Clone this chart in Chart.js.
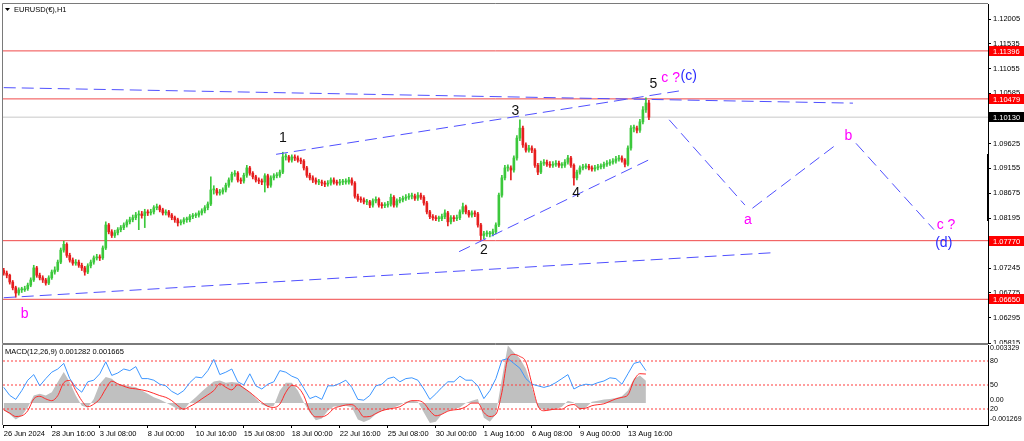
<!DOCTYPE html>
<html>
<head>
<meta charset="utf-8">
<script src="https://cdn.jsdelivr.net/npm/chart.js@4.4.1/dist/chart.umd.min.js"></script>
<style>
  body { margin: 0; background: #fff; width: 1024px; height: 441px; overflow: hidden; position: relative; }
  canvas { position: absolute; left: 0; }
  #main { top: 0; }
  #macd { top: 344px; }
</style>
</head>
<body>
<canvas id="main" width="1024" height="344"></canvas>
<canvas id="macd" width="1024" height="97"></canvas>
<script>
// EURUSD H1, drawn as 4-hour candles (x = hours since 26 Jun 00:00)
const barStep = 4;
const firstOpen = 1.0720;
const closes = [
  1.0715,1.0711,1.0698,1.0687,1.0677,1.0683,1.0683,1.0685,1.0692,1.0702,
  1.0725,1.0711,1.0706,1.0702,1.0696,1.0706,1.0717,1.0721,1.0736,1.0759,
  1.0770,1.0749,1.0740,1.0734,1.0736,1.0730,1.0725,1.0717,1.0729,1.0736,
  1.0744,1.0746,1.0744,1.0763,1.0807,1.0794,1.0787,1.0792,1.0798,1.0802,
  1.0807,1.0813,1.0817,1.0821,1.0826,1.0828,1.0825,1.0832,1.0830,1.0832,
  1.0840,1.0842,1.0836,1.0830,1.0832,1.0826,1.0821,1.0817,1.0811,1.0813,
  1.0817,1.0817,1.0823,1.0825,1.0826,1.0830,1.0834,1.0840,1.0847,1.0874,
  1.0874,1.0868,1.0870,1.0874,1.0883,1.0893,1.0904,1.0906,1.0893,1.0891,
  1.0902,1.0916,1.0906,1.0899,1.0893,1.0891,1.0889,1.0901,1.0883,1.0897,
  1.0901,1.0902,1.0908,1.0937,1.0937,1.0931,1.0937,1.0935,1.0931,1.0929,
  1.0916,1.0902,1.0897,1.0893,1.0889,1.0889,1.0887,1.0885,1.0887,1.0893,
  1.0889,1.0887,1.0889,1.0889,1.0889,1.0893,1.0887,1.0862,1.0856,1.0855,
  1.0851,1.0851,1.0845,1.0853,1.0856,1.0845,1.0844,1.0845,1.0847,1.0860,
  1.0845,1.0853,1.0855,1.0858,1.0860,1.0862,1.0862,1.0858,1.0864,1.0860,
  1.0849,1.0832,1.0823,1.0821,1.0819,1.0819,1.0823,1.0830,1.0813,1.0821,
  1.0819,1.0821,1.0832,1.0842,1.0832,1.0826,1.0830,1.0828,1.0807,1.0787,
  1.0790,1.0790,1.0790,1.0794,1.0807,1.0864,1.0897,1.0916,1.0916,1.0912,
  1.0935,1.0973,1.0992,1.0960,1.0950,1.0954,1.0950,1.0921,1.0908,1.0925,
  1.0927,1.0923,1.0921,1.0923,1.0925,1.0921,1.0921,1.0927,1.0935,1.0921,
  1.0897,1.0908,1.0916,1.0918,1.0919,1.0916,1.0914,1.0916,1.0918,1.0919,
  1.0923,1.0925,1.0927,1.0929,1.0933,1.0935,1.0931,1.0923,1.0954,1.0992,
  1.0992,1.0988,1.1004,1.1027,1.1040,1.1013
];
const highs = [
  1.0724,1.0719,1.0713,1.0701,1.0690,1.0687,1.0688,1.0690,1.0696,1.0706,
  1.0730,1.0728,1.0715,1.0710,1.0705,1.0710,1.0721,1.0727,1.0740,1.0763,
  1.0776,1.0773,1.0753,1.0744,1.0741,1.0740,1.0734,1.0728,1.0733,1.0740,
  1.0748,1.0751,1.0750,1.0767,1.0813,1.0810,1.0798,1.0797,1.0802,1.0806,
  1.0811,1.0817,1.0822,1.0826,1.0831,1.0834,1.0833,1.0837,1.0836,1.0837,
  1.0844,1.0847,1.0845,1.0839,1.0836,1.0835,1.0829,1.0824,1.0820,1.0817,
  1.0821,1.0822,1.0827,1.0829,1.0830,1.0834,1.0838,1.0844,1.0851,1.0899,
  1.0882,1.0877,1.0875,1.0878,1.0887,1.0897,1.0908,1.0911,1.0909,1.0897,
  1.0906,1.0921,1.0919,1.0909,1.0902,1.0897,1.0895,1.0905,1.0904,1.0901,
  1.0905,1.0907,1.0912,1.0946,1.0943,1.0940,1.0941,1.0941,1.0939,1.0935,
  1.0932,1.0919,1.0906,1.0901,1.0897,1.0894,1.0893,1.0891,1.0892,1.0897,
  1.0897,1.0893,1.0894,1.0894,1.0895,1.0898,1.0897,1.0890,1.0866,1.0861,
  1.0859,1.0856,1.0854,1.0857,1.0861,1.0859,1.0850,1.0850,1.0852,1.0866,
  1.0863,1.0857,1.0860,1.0862,1.0865,1.0867,1.0868,1.0866,1.0869,1.0868,
  1.0863,1.0852,1.0835,1.0827,1.0825,1.0824,1.0828,1.0836,1.0833,1.0825,
  1.0825,1.0826,1.0836,1.0849,1.0845,1.0835,1.0834,1.0834,1.0831,1.0810,
  1.0795,1.0796,1.0795,1.0799,1.0811,1.0868,1.0902,1.0921,1.0922,1.0920,
  1.0939,1.0978,1.1008,1.0996,1.0964,1.0959,1.0958,1.0953,1.0925,1.0929,
  1.0932,1.0931,1.0928,1.0928,1.0930,1.0929,1.0926,1.0932,1.0940,1.0938,
  1.0924,1.0912,1.0920,1.0923,1.0924,1.0923,1.0920,1.0921,1.0923,1.0924,
  1.0927,1.0930,1.0932,1.0934,1.0938,1.0940,1.0939,1.0934,1.0958,1.0997,
  1.0998,1.0996,1.1009,1.1033,1.1050,1.1045
];
const lows = [
  1.0711,1.0706,1.0694,1.0683,1.0669,1.0673,1.0678,1.0680,1.0682,1.0689,
  1.0699,1.0707,1.0702,1.0697,1.0692,1.0693,1.0703,1.0713,1.0718,1.0733,
  1.0755,1.0745,1.0736,1.0730,1.0730,1.0726,1.0720,1.0711,1.0714,1.0725,
  1.0732,1.0740,1.0739,1.0741,1.0760,1.0790,1.0783,1.0783,1.0788,1.0794,
  1.0798,1.0803,1.0809,1.0813,1.0817,1.0798,1.0820,1.0802,1.0825,1.0826,
  1.0828,1.0836,1.0832,1.0826,1.0826,1.0822,1.0817,1.0812,1.0805,1.0807,
  1.0809,1.0812,1.0813,1.0819,1.0821,1.0822,1.0826,1.0830,1.0836,1.0844,
  1.0866,1.0864,1.0864,1.0866,1.0870,1.0879,1.0889,1.0900,1.0889,1.0886,
  1.0887,1.0898,1.0902,1.0895,1.0889,1.0886,1.0884,1.0870,1.0878,1.0879,
  1.0893,1.0897,1.0898,1.0905,1.0931,1.0927,1.0927,1.0930,1.0927,1.0924,
  1.0912,1.0898,1.0893,1.0888,1.0885,1.0884,1.0882,1.0880,1.0881,1.0883,
  1.0885,1.0883,1.0883,1.0884,1.0885,1.0885,1.0883,1.0858,1.0852,1.0850,
  1.0847,1.0846,1.0840,1.0841,1.0849,1.0841,1.0839,1.0840,1.0841,1.0843,
  1.0841,1.0841,1.0849,1.0851,1.0854,1.0856,1.0857,1.0854,1.0854,1.0856,
  1.0845,1.0828,1.0819,1.0816,1.0815,1.0814,1.0815,1.0819,1.0805,1.0809,
  1.0814,1.0815,1.0817,1.0828,1.0828,1.0822,1.0822,1.0823,1.0803,1.0778,
  1.0781,1.0785,1.0784,1.0786,1.0790,1.0804,1.0860,1.0893,1.0910,1.0893,
  1.0908,1.0931,1.0968,1.0955,1.0946,1.0946,1.0945,1.0917,1.0903,1.0905,
  1.0921,1.0919,1.0917,1.0917,1.0919,1.0917,1.0916,1.0917,1.0923,1.0917,
  1.0883,1.0893,1.0904,1.0912,1.0914,1.0912,1.0910,1.0910,1.0912,1.0914,
  1.0915,1.0919,1.0921,1.0923,1.0925,1.0929,1.0927,1.0918,1.0920,1.0950,
  1.0985,1.0983,1.0984,1.1000,1.1022,1.1008
];

// axis ticks
const xTickVals = [0, 64, 128, 192, 256, 320, 384, 448, 512, 576, 640, 704, 768, 832];
const xTickLabels = ['26 Jun 2024', '28 Jun 16:00', '3 Jul 08:00', '8 Jul 00:00', '10 Jul 16:00', '15 Jul 08:00',
  '18 Jul 00:00', '22 Jul 16:00', '25 Jul 08:00', '30 Jul 00:00', '1 Aug 16:00', '6 Aug 08:00', '9 Aug 00:00', '13 Aug 16:00'];
const priceTicks = [1.12005, 1.11535, 1.11055, 1.10585, 1.09625, 1.09155, 1.08675, 1.08195,
  1.07715, 1.07245, 1.06775, 1.06295, 1.05815];

// horizontal levels
const levels = [1.11396, 1.10479, 1.07770, 1.06650];
const lastPrice = 1.10130;

// trend lines and projected path (hours, price)
const upperLineX = [0, 1132], upperLineY = [1.10694, 1.10398];
const wedgeTopX = [363, 900], wedgeTopY = [1.0942, 1.1063];
const wedgeBottomX = [607, 865], wedgeBottomY = [1.0756, 1.0935];
const lowerLineX = [0, 1025], lowerLineY = [1.0668, 1.0754];
const waveAX = [887, 988], waveAY = [1.1008, 1.0845];
const waveBX = [998, 1112], waveBY = [1.0839, 1.0963];
const waveCX = [1136, 1240], waveCY = [1.0963, 1.0798];

// wave labels
const waveText = ['1', '2', '3', '4', '5', 'c ?', '(c)', 'a', 'b', 'c ?', '(d)', 'b'];
const waveX = [372, 640, 682, 763, 866, 889, 913, 992, 1126, 1256, 1253, 28];
const waveY = [1.0973, 1.0759, 1.1024, 1.0868, 1.1077, 1.1088, 1.1092, 1.0817, 1.0976, 1.0806, 1.0773, 1.0637];
const waveColor = ['#111', '#111', '#111', '#111', '#111', '#ff00ff', '#2a2aff', '#ff00ff', '#ff00ff', '#ff00ff', '#2a2aff', '#ff00ff'];

// MACD panel, one value every 8 hours
const macdStep = 8;
const macdMain = [
  -0.00040,-0.00065,-0.00095,-0.00074,-0.00026,0.00042,0.00052,0.00042,0.00061,0.00120,
  0.00178,0.00120,0.00042,-0.00016,-0.00026,0.00023,0.00110,0.00149,0.00139,0.00110,
  0.00104,0.00096,0.00090,0.00071,0.00052,0.00032,0.00019,0.00003,-0.00016,-0.00036,
  -0.00040,0.00003,0.00032,0.00065,0.00096,0.00123,0.00129,0.00116,0.00120,0.00116,
  0.00090,0.00061,0.00026,-0.00009,-0.00022,-0.00016,0.00071,0.00116,0.00116,0.00071,
  0.00003,-0.00055,-0.00100,-0.00090,-0.00045,-0.00020,-0.00020,-0.00016,-0.00026,-0.00095,
  -0.00110,-0.00095,-0.00065,-0.00045,-0.00036,-0.00026,-0.00012,0.00007,0.00013,0.00007,
  -0.00055,-0.00115,-0.00108,-0.00065,-0.00045,-0.00036,-0.00026,-0.00001,0.00013,0.00023,
  -0.00085,-0.00108,-0.00065,0.00139,0.00330,0.00290,0.00255,0.00197,0.00090,-0.00026,
  -0.00040,-0.00042,-0.00036,-0.00022,0.00013,0.00003,-0.00040,-0.00026,0.00007,0.00013,
  0.00019,0.00023,0.00028,0.00038,0.00071,0.00139,0.00158,0.00128
];
const macdSignal = [
  -0.00040,-0.00059,-0.00078,-0.00074,-0.00045,0.00023,0.00038,0.00023,0.00013,0.00042,
  0.00116,0.00129,0.00071,0.00013,-0.00022,-0.00007,0.00023,0.00081,0.00125,0.00110,
  0.00096,0.00085,0.00081,0.00075,0.00067,0.00055,0.00042,0.00032,0.00013,-0.00016,
  -0.00036,-0.00020,-0.00001,0.00023,0.00046,0.00071,0.00110,0.00090,0.00075,0.00104,
  0.00085,0.00061,0.00032,0.00003,-0.00020,-0.00026,-0.00007,0.00061,0.00100,0.00090,
  0.00042,-0.00045,-0.00080,-0.00080,-0.00065,-0.00032,-0.00020,-0.00012,-0.00010,-0.00036,
  -0.00080,-0.00078,-0.00061,-0.00045,-0.00036,-0.00030,-0.00022,-0.00001,0.00013,0.00013,
  -0.00001,-0.00045,-0.00074,-0.00065,-0.00047,-0.00040,-0.00036,-0.00022,-0.00001,-0.00001,
  -0.00055,-0.00078,-0.00065,0.00061,0.00255,0.00279,0.00267,0.00236,0.00110,-0.00016,
  -0.00045,-0.00040,-0.00036,-0.00036,-0.00016,-0.00009,-0.00032,-0.00030,-0.00016,-0.00010,
  -0.00005,0.00009,0.00023,0.00032,0.00046,0.00129,0.00168,0.00166
];
const oscLine = [
  47,37,32,43,56,63,49,58,66,70, 77,58,47,41,54,56,64,79,62,65,
  70,68,73,58,58,56,51,49,42,38, 43,53,60,59,68,82,63,66,70,54,
  50,64,49,45,51,54,68,66,61,58, 46,33,36,32,49,49,52,56,47,32,
  31,37,49,51,58,60,54,58,59,56, 45,32,39,47,54,54,61,56,56,49,
  33,43,58,81,83,77,71,58,51,49, 47,49,53,58,63,45,49,51,50,53,
  55,59,58,51,64,77,79,68
];
const oscLevels = [80, 50, 20];

const xMin = -1, xMax = 1312;
const priceMin = 1.05815, priceMax = 1.12292;
const macdMin = -0.001269, macdMax = 0.003329;
const upColor = '#3cc83c', downColor = '#e61e1e';
const lineBlue = '#5050ff';
const axisFont = { family: 'Liberation Sans', size: 7.5 };

const opens = closes.map((c, i) => i === 0 ? firstOpen : closes[i - 1]);
const candleColors = closes.map((c, i) => c >= opens[i] ? upColor : downColor);
const pts = (xs, ys) => xs.map((x, i) => ({ x: x, y: ys[i] }));

const dashed = (xs, ys) => ({
  type: 'line', data: pts(xs, ys), borderColor: lineBlue, borderWidth: 1,
  borderDash: [12, 6], pointRadius: 0, order: 1
});

// no extra room for the first/last tick labels
const noPad = s => { s.paddingTop = 0; s.paddingBottom = 0; s.paddingLeft = 0; s.paddingRight = 0; };

const mainDecor = {
  id: 'mainDecor',
  afterDraw(chart) {
    const ctx = chart.ctx, a = chart.chartArea;
    const xs = chart.scales.x, ys = chart.scales.y;
    ctx.save();
    // frame
    ctx.strokeStyle = '#7a7a7a';
    ctx.lineWidth = 1;
    ctx.beginPath();
    ctx.moveTo(a.right, a.top - 0.5); ctx.lineTo(a.left - 0.5, a.top - 0.5);
    ctx.lineTo(a.left - 0.5, a.bottom + 0.5); ctx.lineTo(a.right, a.bottom + 0.5);
    ctx.stroke();
    ctx.fillStyle = '#000';
    ctx.fillRect(a.right - 1, 154, 2, 67);

    // title
    ctx.beginPath();
    ctx.moveTo(5, 8); ctx.lineTo(10, 8); ctx.lineTo(7.5, 11); ctx.closePath(); ctx.fill();
    ctx.font = '7.5px "Liberation Sans"';
    ctx.textBaseline = 'middle';
    ctx.textAlign = 'left';
    ctx.fillText('EURUSD(€),H1', 14, 10);

    // price boxes on the axis
    const box = (v, bg) => {
      const y = Math.round(ys.getPixelForValue(v));
      ctx.fillStyle = bg;
      ctx.fillRect(a.right + 1, y - 5, 35, 10);
      ctx.fillStyle = '#fff';
      ctx.fillText(v.toFixed(5), a.right + 5, y + 0.5);
    };
    levels.forEach(v => box(v, '#ff0000'));
    box(lastPrice, '#000');

    // wave labels
    ctx.font = '14px "Liberation Sans"';
    ctx.textAlign = 'center';
    waveText.forEach((t, i) => {
      ctx.fillStyle = waveColor[i];
      ctx.fillText(t, xs.getPixelForValue(waveX[i]), ys.getPixelForValue(waveY[i]));
    });
    ctx.restore();
  }
};

new Chart(document.getElementById('main'), {
  type: 'bar',
  data: {
    datasets: [
      ...levels.map(v => ({
        type: 'line', data: pts([xMin, xMax], [v, v]), borderColor: '#f04848',
        borderWidth: 1, pointRadius: 0, order: 6
      })),
      { type: 'line', data: pts([xMin, xMax], [lastPrice, lastPrice]), borderColor: '#c8c8c8',
        borderWidth: 1, pointRadius: 0, order: 6 },
      { data: closes.map((c, i) => ({ x: i * barStep, y: [lows[i], highs[i]] })),
        backgroundColor: candleColors, barThickness: 1, grouped: false, order: 4 },
      { data: closes.map((c, i) => ({ x: i * barStep, y: [opens[i], c] })),
        backgroundColor: candleColors, barThickness: 2, grouped: false, minBarLength: 1, order: 3 },
      dashed(upperLineX, upperLineY),
      dashed(wedgeTopX, wedgeTopY),
      dashed(wedgeBottomX, wedgeBottomY),
      dashed(lowerLineX, lowerLineY),
      dashed(waveAX, waveAY),
      dashed(waveBX, waveBY),
      dashed(waveCX, waveCY)
    ]
  },
  options: {
    responsive: false,
    animation: false,
    devicePixelRatio: 1,
    layout: { padding: { left: 3, top: 4, right: 0, bottom: 1 } },
    plugins: { legend: { display: false }, tooltip: { enabled: false } },
    scales: {
      x: { type: 'linear', min: xMin, max: xMax, display: false, offset: false },
      y: {
        position: 'right', min: priceMin, max: priceMax,
        afterFit: s => { s.width = 36; noPad(s); },
        afterBuildTicks: s => { s.ticks = priceTicks.map(v => ({ value: v })); },
        ticks: { autoSkip: false, font: axisFont, color: '#000', padding: 2, callback: v => v.toFixed(5) },
        grid: { drawOnChartArea: false, tickLength: 3, color: '#000' },
        border: { color: '#000' }
      }
    }
  },
  plugins: [mainDecor]
});

const macdDecor = {
  id: 'macdDecor',
  afterDraw(chart) {
    const ctx = chart.ctx, a = chart.chartArea;
    const ym = chart.scales.y, yo = chart.scales.y2;
    ctx.save();
    ctx.strokeStyle = '#7a7a7a';
    ctx.beginPath();
    ctx.moveTo(a.right, a.top - 0.5); ctx.lineTo(a.left - 0.5, a.top - 0.5); ctx.lineTo(a.left - 0.5, a.bottom);
    ctx.stroke();
    ctx.fillStyle = '#000';
    ctx.font = '7.5px "Liberation Sans"';
    ctx.textBaseline = 'middle';
    ctx.textAlign = 'left';
    ctx.fillText('MACD(12,26,9) 0.001282 0.001665', 5, 8);
    ctx.font = '7px "Liberation Sans"';
    const lx = a.right + 2;
    ctx.fillText(macdMax.toFixed(6), lx, a.top + 3);
    ctx.fillText('0.00', lx, ym.getPixelForValue(0) - 3);
    ctx.fillText(macdMin.toFixed(6), lx, a.bottom - 6);
    oscLevels.forEach(v => ctx.fillText(String(v), lx, yo.getPixelForValue(v)));
    ctx.restore();
  }
};

new Chart(document.getElementById('macd'), {
  type: 'line',
  data: {
    datasets: [
      { data: macdMain.map((v, i) => ({ x: i * macdStep, y: v })), fill: 'origin',
        backgroundColor: '#c0c0c0', borderWidth: 0, pointRadius: 0, yAxisID: 'y', order: 4 },
      ...oscLevels.map(v => ({
        data: pts([xMin, xMax], [v, v]), borderColor: '#ff3c3c', borderWidth: 1,
        borderDash: [2, 2], pointRadius: 0, yAxisID: 'y2', order: 3
      })),
      { data: oscLine.map((v, i) => ({ x: i * macdStep, y: v })), borderColor: '#3d96ff',
        borderWidth: 1, pointRadius: 0, yAxisID: 'y2', order: 2 },
      { data: macdSignal.map((v, i) => ({ x: i * macdStep, y: v })), borderColor: '#ff2a2a',
        borderWidth: 1, pointRadius: 0, cubicInterpolationMode: 'monotone', yAxisID: 'y', order: 1 }
    ]
  },
  options: {
    responsive: false,
    animation: false,
    devicePixelRatio: 1,
    layout: { padding: { left: 3, top: 1, right: 0, bottom: 0 } },
    plugins: { legend: { display: false }, tooltip: { enabled: false } },
    scales: {
      x: {
        type: 'linear', min: xMin, max: xMax, offset: false,
        afterFit: s => { s.height = 16; noPad(s); },
        afterBuildTicks: s => { s.ticks = xTickVals.map(v => ({ value: v })); },
        ticks: { autoSkip: false, maxRotation: 0, align: 'start', padding: 1, font: axisFont, color: '#000',
          callback: (v, i) => xTickLabels[i] },
        grid: { drawOnChartArea: false, tickLength: 3, color: '#000' },
        border: { color: '#000' }
      },
      y: {
        position: 'right', min: macdMin, max: macdMax,
        afterFit: s => { s.width = 36; noPad(s); },
        ticks: { display: false }, grid: { display: false },
        border: { color: '#000' }
      },
      y2: { display: false, min: 0, max: 100 }
    }
  },
  plugins: [macdDecor]
});
</script>
</body>
</html>
